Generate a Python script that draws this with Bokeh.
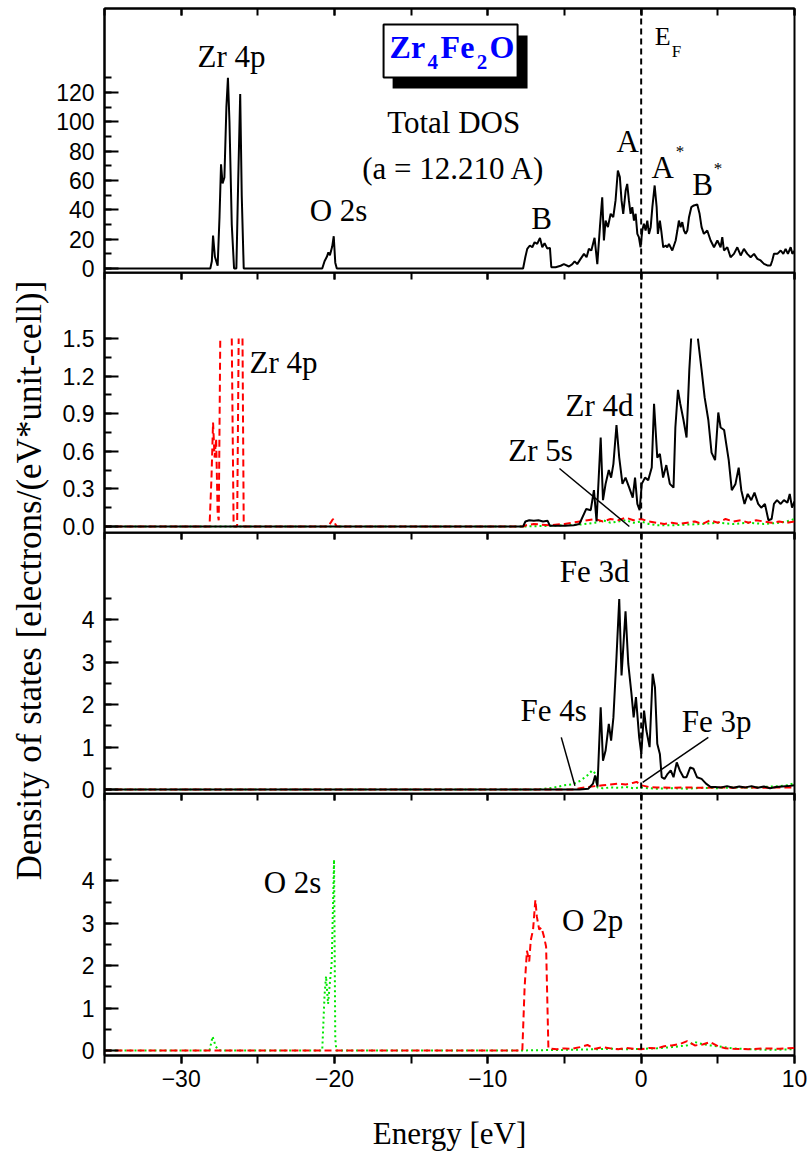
import math
from bokeh.plotting import figure
from bokeh.layouts import column, row
from bokeh.models import FixedTicker, LinearAxis, Span, Label, BoxAnnotation, PrintfTickFormatter, Range1d
from bokeh.embed import file_html
from bokeh.resources import INLINE

NAN = float("nan")

# ---------------- data (energy [eV], DOS) ----------------
TOTAL_DOS = [(-35, 0), (-28.1, 0), (-28.0, 5), (-27.92, 22.5), (-27.8, 8), (-27.62, 2), (-27.5, 35), (-27.4, 71),
             (-27.3, 58), (-27.18, 62), (-27.05, 110), (-26.95, 130), (-26.85, 100), (-26.7, 30), (-26.55, 0),
             (-26.4, 0), (-26.28, 60), (-26.15, 119), (-26.05, 50), (-25.92, 0),
             (-20.8, 0), (-20.65, 5), (-20.5, 8), (-20.4, 11), (-20.3, 9), (-20.15, 15), (-20.05, 22), (-19.95, 4), (-19.85, 0),
             (-7.7, 0), (-7.55, 8), (-7.43, 13.4), (-7.26, 15.7), (-7.1, 14.5), (-6.95, 17.9), (-6.78, 16.8), (-6.6, 20.9),
             (-6.45, 14.5), (-6.3, 17.3), (-6.12, 13.6), (-5.95, 14.1), (-5.86, 0.9), (-5.58, 0.9), (-5.25, 1.9), (-5.04, 3.0),
             (-4.71, 1.4), (-4.49, 3.0), (-4.34, 4.9), (-4.17, 3.0), (-3.95, 6.6), (-3.73, 10.0), (-3.56, 7.7), (-3.41, 13.4),
             (-3.25, 12.3), (-3.04, 20.9), (-2.86, 3.0), (-2.69, 28.2), (-2.54, 48.6), (-2.43, 19.1), (-2.32, 32.7),
             (-2.17, 28.2), (-1.99, 37.3), (-1.82, 35.0), (-1.67, 46.4), (-1.52, 66.8), (-1.39, 62.3), (-1.28, 46.4),
             (-1.17, 37.3), (-1.01, 53.2), (-0.91, 57.7), (-0.80, 46.4), (-0.69, 37.3), (-0.58, 41.8), (-0.47, 32.7),
             (-0.36, 37.3), (-0.25, 23.6), (-0.15, 21.4), (-0.04, 14.5), (0.07, 25.9), (0.18, 30.5), (0.29, 25.9),
             (0.40, 32.7), (0.51, 23.6), (0.62, 28.2), (0.73, 41.8), (0.88, 56.6), (1.01, 41.8), (1.09, 23.6), (1.22, 32.7),
             (1.31, 25.9), (1.44, 14.5), (1.60, 15.7), (1.70, 14.5), (1.81, 16.8), (1.92, 14.5), (2.03, 12.3), (2.14, 15.7),
             (2.25, 19.1), (2.36, 25.9), (2.46, 32.7), (2.57, 28.2), (2.68, 31.6), (2.79, 25.9), (2.90, 23.6), (3.01, 25.9),
             (3.12, 35.0), (3.27, 41.8), (3.44, 43.0), (3.66, 43.6), (3.81, 37.3), (3.94, 28.2), (4.09, 23.6), (4.31, 25.9),
             (4.53, 19.1), (4.75, 14.5), (4.97, 19.1), (5.18, 14.5), (5.29, 21.4), (5.40, 12.3), (5.62, 14.5), (5.83, 7.7),
             (6.05, 10.0), (6.27, 14.5), (6.49, 8.9), (6.70, 13.4), (6.92, 10.0), (7.14, 7.7), (7.36, 10.0), (7.58, 6.6),
             (7.79, 5.5), (8.01, 3.2), (8.23, 2.1), (8.44, 2.1), (8.55, 5.5), (8.66, 10.0), (8.88, 10.0), (9.10, 12.3),
             (9.27, 10.0), (9.42, 13.4), (9.57, 10.0), (9.75, 14.5), (9.86, 10.0), (10.0, 12.0)]

ZR_4D = [(-35, 0), (-7.7, 0), (-7.55, 0.04), (-7.3, 0.05), (-7.0, 0.045), (-6.7, 0.05), (-6.4, 0.04), (-6.1, 0.045),
         (-5.95, 0.005), (-5.0, 0.005), (-4.4, 0.01), (-4.03, 0.02), (-3.58, 0.14), (-3.29, 0.13), (-3.08, 0.29),
         (-2.91, 0.04), (-2.64, 0.71), (-2.49, 0.21), (-2.32, 0.34), (-2.11, 0.45), (-1.96, 0.39), (-1.81, 0.50),
         (-1.61, 0.81), (-1.43, 0.55), (-1.22, 0.34), (-1.02, 0.39), (-0.78, 0.31), (-0.55, 0.23), (-0.40, 0.39),
         (-0.25, 0.18), (-0.10, 0.13), (0.04, 0.34), (0.25, 0.39), (0.46, 0.37), (0.69, 0.47), (0.84, 0.98),
         (1.05, 0.55), (1.22, 0.58), (1.43, 0.39), (1.64, 0.49), (1.87, 0.34), (2.11, 0.31), (2.23, 0.79), (2.40, 1.09),
         (2.55, 0.98), (2.76, 0.85), (2.96, 0.71), (3.14, 1.25), (3.26, 1.5), (3.48, NAN), (3.70, 1.5), (3.94, 1.25),
         (4.14, 1.03), (4.38, 0.85), (4.59, 0.59), (4.82, 0.53), (5.03, 0.91), (5.18, 0.79), (5.41, 0.77), (5.56, 0.65),
         (5.71, 0.53), (5.91, 0.29), (6.15, 0.34), (6.36, 0.47), (6.53, 0.29), (6.74, 0.18), (6.95, 0.26), (7.18, 0.21),
         (7.39, 0.27), (7.63, 0.18), (7.83, 0.15), (8.07, 0.18), (8.30, 0.05), (8.51, 0.06), (8.66, 0.18), (8.86, 0.21),
         (9.10, 0.18), (9.31, 0.21), (9.54, 0.19), (9.69, 0.26), (9.84, 0.15), (10.0, 0.2)]

ZR_4P = [(-35, 0), (-28.15, 0), (-28.02, 0.4), (-27.92, 0.83), (-27.82, 0.55), (-27.72, 0.7), (-27.62, 0.1),
         (-27.55, 0.05), (-27.45, 1.5), (-27.0, NAN), (-26.7, 1.5), (-26.58, 0.0), (-26.35, 0.0), (-26.25, 1.5),
         (-26.1, NAN), (-26.0, 1.5), (-25.92, 0.0), (-20.45, 0.0), (-20.25, 0.03), (-20.1, 0.06), (-19.95, 0.02),
         (-19.85, 0.0), (-7.7, 0.0), (-7.5, 0.01), (-7.0, 0.02), (-6.0, 0.01), (-5.0, 0.02), (-4.5, 0.03), (-4.0, 0.04),
         (-3.5, 0.05), (-3.0, 0.06), (-2.5, 0.04), (-2.0, 0.06), (-1.5, 0.05), (-1.0, 0.07), (-0.5, 0.05), (0.0, 0.06),
         (0.5, 0.04), (1.0, 0.03), (1.5, 0.02), (2.0, 0.03), (2.5, 0.02), (3.0, 0.03), (3.5, 0.04), (4.0, 0.02),
         (4.5, 0.05), (5.0, 0.03), (5.5, 0.06), (6.0, 0.04), (6.5, 0.05), (7.0, 0.03), (7.5, 0.05), (8.0, 0.04),
         (8.5, 0.03), (9.0, 0.04), (9.5, 0.03), (10.0, 0.04)]

ZR_5S = [(-35, 0), (-7.7, 0), (-6.0, 0.005), (-5.0, 0.01), (-4.0, 0.015), (-3.0, 0.03), (-2.5, 0.05), (-2.0, 0.03),
         (-1.5, 0.04), (-1.0, 0.05), (-0.5, 0.03), (0.0, 0.04), (0.5, 0.02), (1.0, 0.01), (2.0, 0.01), (3.0, 0.015),
         (4.0, 0.02), (5.0, 0.03), (6.0, 0.02), (7.0, 0.03), (8.0, 0.02), (9.0, 0.03), (9.5, 0.04), (10.0, 0.06)]

FE_3D = [(-35, 0), (-4.6, 0), (-4.03, 0.0), (-3.44, 0.02), (-3.14, 0.14), (-3.0, 0.33), (-2.85, 0.07), (-2.64, 1.94),
         (-2.49, 0.68), (-2.32, 0.92), (-2.11, 1.55), (-1.96, 1.15), (-1.81, 1.70), (-1.61, 3.12), (-1.43, 4.49),
         (-1.28, 2.69), (-1.02, 4.2), (-0.84, 2.96), (-0.63, 2.25), (-0.49, 1.70), (-0.34, 2.18), (-0.13, 1.23),
         (0.01, 0.84), (0.19, 1.86), (0.34, 1.39), (0.55, 1.0), (0.75, 2.73), (0.90, 2.41), (1.05, 1.08), (1.22, 0.84),
         (1.34, 0.29), (1.52, 0.25), (1.73, 0.37), (1.93, 0.45), (2.11, 0.29), (2.32, 0.64), (2.52, 0.45), (2.76, 0.29),
         (2.96, 0.29), (3.20, 0.52), (3.41, 0.49), (3.64, 0.29), (3.94, 0.25), (4.23, 0.14), (4.53, 0.06), (4.82, 0.06),
         (5.2, 0.05), (5.6, 0.08), (6.0, 0.04), (6.4, 0.07), (6.8, 0.05), (7.2, 0.08), (7.6, 0.04), (8.0, 0.07),
         (8.4, 0.03), (8.8, 0.06), (9.2, 0.07), (9.6, 0.08), (10.0, 0.1)]

FE_4S = [(-35, 0), (-6.8, 0), (-6.0, 0.03), (-5.5, 0.06), (-5.0, 0.1), (-4.5, 0.12), (-4.0, 0.2), (-3.7, 0.28),
         (-3.45, 0.35), (-3.2, 0.45), (-3.0, 0.38), (-2.85, 0.05), (-2.5, 0.03), (-2.0, 0.05), (-1.5, 0.04), (-1.0, 0.06),
         (-0.5, 0.03), (0.0, 0.05), (0.5, 0.03), (1.0, 0.02), (2.0, 0.03), (3.0, 0.02), (4.0, 0.04), (5.0, 0.03),
         (6.0, 0.05), (7.0, 0.04), (8.0, 0.06), (9.0, 0.08), (9.5, 0.1), (10.0, 0.15)]

FE_3P = [(-35, 0), (-4.5, 0), (-4.0, 0.03), (-3.5, 0.06), (-3.0, 0.08), (-2.5, 0.1), (-2.0, 0.12), (-1.5, 0.14),
         (-1.0, 0.12), (-0.5, 0.16), (-0.3, 0.18), (0.0, 0.1), (0.5, 0.06), (1.0, 0.05), (2.0, 0.04), (3.0, 0.05),
         (4.0, 0.04), (5.0, 0.05), (6.0, 0.04), (7.0, 0.05), (8.0, 0.04), (9.0, 0.05), (10.0, 0.05)]

O_2S = [(-35, 0), (-28.15, 0), (-27.95, 0.33), (-27.75, 0.1), (-27.6, 0.02), (-27.4, 0), (-20.8, 0), (-20.65, 1.3),
        (-20.55, 1.75), (-20.42, 1.1), (-20.3, 1.6), (-20.18, 2.1), (-20.03, 4.5), (-19.95, 0.3), (-19.88, 0),
        (-8.0, 0), (-6.0, 0.01), (-4.0, 0.02), (-3.0, 0.03), (-2.0, 0.04), (-1.0, 0.03), (0.0, 0.04), (1.0, 0.05),
        (2.0, 0.08), (3.0, 0.12), (3.5, 0.2), (4.0, 0.15), (4.5, 0.12), (5.0, 0.1), (6.0, 0.05), (7.0, 0.03),
        (8.0, 0.02), (9.0, 0.02), (10.0, 0.03)]

O_2P = [(-35, 0), (-7.75, 0), (-7.6, 1.5), (-7.45, 2.35), (-7.3, 2.1), (-7.2, 2.6), (-7.05, 2.85), (-6.9, 3.55),
        (-6.8, 3.15), (-6.65, 2.85), (-6.5, 2.9), (-6.35, 2.7), (-6.2, 2.45), (-6.05, 0.05), (-5.5, 0.03), (-5.0, 0.05),
        (-4.5, 0.04), (-4.0, 0.08), (-3.5, 0.13), (-3.0, 0.04), (-2.5, 0.08), (-2.0, 0.05), (-1.5, 0.03), (-1.0, 0.06),
        (-0.5, 0.04), (0.0, 0.03), (0.5, 0.06), (1.0, 0.05), (1.5, 0.1), (2.0, 0.12), (2.5, 0.15), (3.0, 0.22),
        (3.5, 0.12), (4.0, 0.14), (4.5, 0.2), (5.0, 0.1), (5.5, 0.05), (6.0, 0.04), (7.0, 0.03), (8.0, 0.05),
        (9.0, 0.04), (10.0, 0.06)]

X_MAJOR = [-30, -20, -10, 0, 10]
X_MINOR = [-35, -30, -25, -20, -15, -10, -5, 0, 5, 10]
Y1_MAJOR = [0, 20, 40, 60, 80, 100, 120]
Y1_MINOR = [0, 10, 20, 30, 40, 50, 60, 70, 80, 90, 100, 110, 120, 130]
Y2_MAJOR = [0.0, 0.3, 0.6, 0.9, 1.2, 1.5]
Y2_MINOR = [0.0, 0.15, 0.3, 0.45, 0.6, 0.75, 0.9, 1.05, 1.2, 1.35, 1.5]
Y34_MAJOR = [0, 1, 2, 3, 4]
Y34_MINOR = [0, 0.5, 1, 1.5, 2, 2.5, 3, 3.5, 4, 4.5]

# ---------------- styling ----------------
SERIF = "Liberation Serif"
SANS = "Liberation Sans"
RED = "#FF0000"
GREEN = "#00E600"
BLUE = "#0000FF"
ANN = 31          # annotation font size (px)
OV = 12           # overlap between stacked figures so edge tick labels are not cut
LAB_W = 52        # width of the strip that holds the shared y label
FIG_W = 810 - LAB_W
X_RANGE = Range1d(-35, 10)


def xy(pairs):
    return [a for a, b in pairs], [b for a, b in pairs]


def style_top(ax):
    ax.ticker = FixedTicker(ticks=X_MAJOR, minor_ticks=X_MINOR)
    ax.major_label_overrides = {t: "" for t in X_MAJOR}
    ax.major_tick_in = 7
    ax.major_tick_out = 0
    ax.minor_tick_in = 7
    ax.minor_tick_out = 0
    ax.major_tick_line_width = 2
    ax.minor_tick_line_width = 2
    ax.axis_line_width = 2
    ax.major_label_text_font_size = "1px"
    ax.major_label_standoff = 0


def style_y(p, major, minor, fmt):
    ax = p.yaxis[0]
    ax.ticker = FixedTicker(ticks=major, minor_ticks=minor)
    ax.formatter = PrintfTickFormatter(format=fmt)
    ax.major_tick_in = 14
    ax.major_tick_out = 0
    ax.minor_tick_in = 7
    ax.minor_tick_out = 0
    ax.major_tick_line_width = 2
    ax.minor_tick_line_width = 2
    ax.axis_line_width = 2
    ax.major_label_text_font = SANS
    ax.major_label_text_font_size = "23px"
    ax.major_label_text_color = "black"
    ax.major_label_standoff = 10


def make_panel(height, yr, top, bottom, bottom_axis=False, first=False):
    p = figure(width=FIG_W, height=height, x_range=X_RANGE, y_range=Range1d(*yr),
               x_axis_location="below" if bottom_axis else "above",
               min_border_left=104 - LAB_W, min_border_right=16, min_border_top=top, min_border_bottom=bottom,
               output_backend="svg", toolbar_location=None)
    if not first:
        p.margin = (-OV, 0, 0, 0)
        p.border_fill_alpha = 0.0
        p.background_fill_alpha = 0.0
    else:
        p.border_fill_color = "white"
        p.background_fill_color = "white"
    p.grid.visible = False
    p.outline_line_color = "black"
    p.outline_line_width = 2
    if bottom_axis:
        bot = p.below[0]
        top_ax = LinearAxis()
        p.add_layout(top_ax, "above")
        style_top(top_ax)
        bot.ticker = FixedTicker(ticks=X_MAJOR, minor_ticks=X_MINOR)
        bot.major_tick_in = 0
        bot.major_tick_out = 8
        bot.minor_tick_in = 0
        bot.minor_tick_out = 8
        bot.major_tick_line_width = 2
        bot.minor_tick_line_width = 2
        bot.axis_line_width = 2
        bot.major_label_text_font = SANS
        bot.major_label_text_font_size = "23px"
        bot.major_label_text_color = "black"
        bot.major_label_standoff = 6
        bot.axis_label = "Energy [eV]"
        bot.axis_label_text_font = SERIF
        bot.axis_label_text_font_size = "31px"
        bot.axis_label_text_font_style = "normal"
        bot.axis_label_text_color = "black"
        bot.axis_label_standoff = 26
    else:
        style_top(p.above[0])
    p.add_layout(Span(location=0, dimension="height", line_color="black", line_dash="6 4", line_width=2))
    return p


def txt(p, x, y, s, size=ANN, align="center", color="black", bold=False, font=SERIF):
    p.add_layout(Label(x=x, y=y, text=s, text_font=font, text_font_size=f"{size}px", text_align=align,
                       text_baseline="middle", text_color=color,
                       text_font_style="bold" if bold else "normal"))


def pointer(p, x0, y0, x1, y1):
    p.line([x0, x1], [y0, y1], line_color="black", line_width=1.5)


# ---------------- panel 1: total DOS ----------------
f1 = make_panel(272 + OV, (-2.7, 177.2), 8, OV, first=True)
style_y(f1, Y1_MAJOR, Y1_MINOR, "%d")
x, y = xy(TOTAL_DOS)
f1.line(x, y, line_color="black", line_width=2)
txt(f1, -26.72, 144.5, "Zr 4p")
txt(f1, -12.23, 99.5, "Total DOS")
txt(f1, -12.23, 68.2, "(a = 12.210 A)")
txt(f1, -19.74, 39.5, "O 2s")
txt(f1, -6.49, 34.4, "B")
txt(f1, -0.88, 86.6, "A")
txt(f1, 1.40, 68.8, "A")
txt(f1, 2.25, 79.8, "*", size=17, align="left")
txt(f1, 4.01, 57.3, "B")
txt(f1, 4.73, 68.5, "*", size=17, align="left")
txt(f1, 0.88, 157.8, "E", size=26, align="left")
txt(f1, 2.0, 147.9, "F", size=17, align="left")
f1.add_layout(BoxAnnotation(left=-16.21, right=-7.41, top=158.8, bottom=122.7,
                            fill_color="black", fill_alpha=1.0, line_color=None))
f1.add_layout(BoxAnnotation(left=-16.80, right=-8.06, top=166.3, bottom=130.2,
                            fill_color="white", fill_alpha=1.0, line_color="black", line_alpha=1.0,
                            line_width=2))
txt(f1, -16.41, 151.3, "Zr", size=32, align="left", color=BLUE, bold=True)
txt(f1, -13.93, 140.8, "4", size=21, align="left", color=BLUE, bold=True)
txt(f1, -13.08, 151.3, "Fe", size=32, align="left", color=BLUE, bold=True)
txt(f1, -10.73, 140.8, "2", size=21, align="left", color=BLUE, bold=True)
txt(f1, -9.89, 151.3, "O", size=32, align="left", color=BLUE, bold=True)

# ---------------- panel 2: Zr ----------------
f2 = make_panel(260 + OV, (-0.048, 2.027), 0, OV)
style_y(f2, Y2_MAJOR, Y2_MINOR, "%.1f")
x, y = xy(ZR_5S)
f2.line(x, y, line_color=GREEN, line_width=2, line_dash="2 3")
x, y = xy(ZR_4P)
f2.line(x, y, line_color=RED, line_width=2, line_dash="7 4")
x, y = xy(ZR_4D)
f2.line(x, y, line_color="black", line_width=2)
txt(f2, -25.54, 1.305, "Zr 4p", align="left")
txt(f2, -2.71, 0.962, "Zr 4d")
txt(f2, -6.56, 0.607, "Zr 5s")
pointer(f2, -5.33, 0.463, -0.77, 0.0)

# ---------------- panel 3: Fe ----------------
f3 = make_panel(261 + OV, (-0.094, 6.06), 0, OV)
style_y(f3, Y34_MAJOR, Y34_MINOR, "%d")
x, y = xy(FE_4S)
f3.line(x, y, line_color=GREEN, line_width=2, line_dash="2 3")
x, y = xy(FE_3P)
f3.line(x, y, line_color=RED, line_width=2, line_dash="7 4")
x, y = xy(FE_3D)
f3.line(x, y, line_color="black", line_width=2)
txt(f3, -3.04, 5.14, "Fe 3d")
txt(f3, -5.71, 1.86, "Fe 4s")
txt(f3, 4.92, 1.60, "Fe 3p")
pointer(f3, -5.21, 1.23, -4.32, 0.09)
pointer(f3, 4.38, 1.23, 0.10, 0.17)

# ---------------- panel 4: O ----------------
f4 = make_panel(367, (-0.118, 6.06), 0, 105, bottom_axis=True)
style_y(f4, Y34_MAJOR, Y34_MINOR, "%d")
x, y = xy(O_2S)
f4.line(x, y, line_color=GREEN, line_width=2, line_dash="2 3")
x, y = xy(O_2P)
f4.line(x, y, line_color=RED, line_width=2, line_dash="7 4")
txt(f4, -22.74, 3.96, "O 2s")
txt(f4, -3.17, 3.06, "O 2p")

# ---------------- shared y label ----------------
lab = figure(width=LAB_W, height=1160, x_range=Range1d(0, LAB_W), y_range=Range1d(0, 1160),
             x_axis_location=None, y_axis_location=None, min_border=0,
             toolbar_location=None, output_backend="svg")
lab.outline_line_color = None
lab.grid.visible = False
lab.add_layout(Label(x=29, y=580, text="Density of states [electrons/(eV*unit-cell)]", angle=math.pi / 2,
                     text_align="center", text_baseline="middle", text_font=SERIF, text_font_size="35px",
                     text_color="black"))

layout = row(lab, column(f1, f2, f3, f4))
open("out.html", "w").write(file_html(layout, INLINE))
